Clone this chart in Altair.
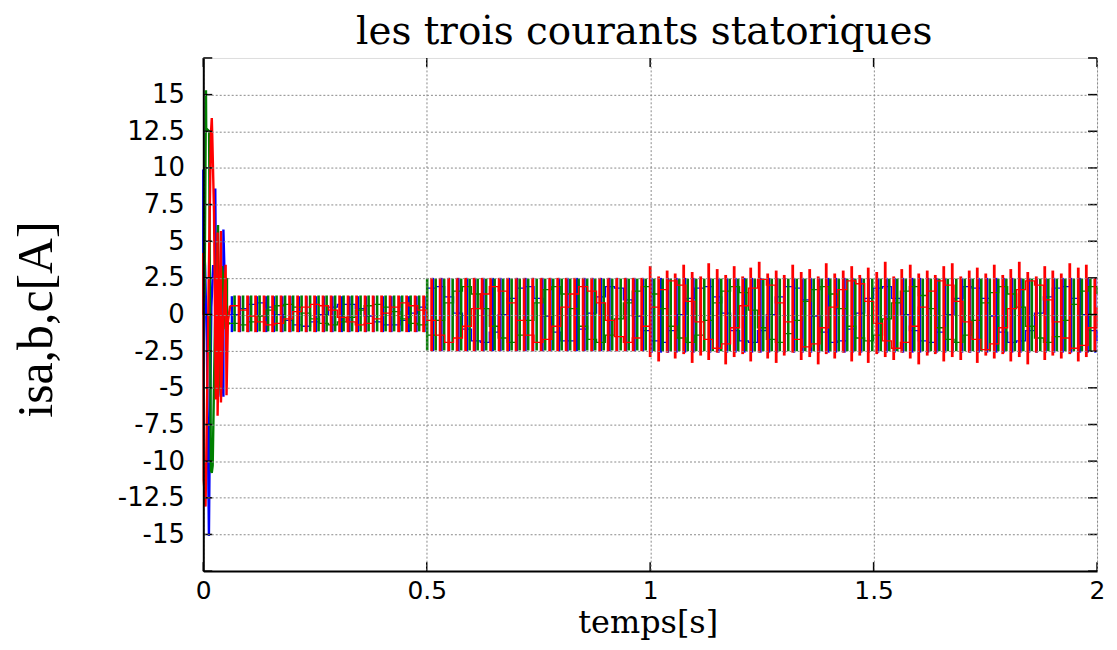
import altair as alt
import pandas as pd

# ---------------- axes ----------------
X_TICKS = [0, 0.5, 1, 1.5, 2]
Y_LABELED = [-15, -12.5, -10, -7.5, -5, -2.5, 0, 2.5, 5, 7.5, 10, 12.5, 15]
Y_TICKS = [-17.5, -15, -12.5, -10, -7.5, -5, -2.5, 0, 2.5, 5, 7.5, 10, 12.5, 15, 17.5]

PLOT_W = 897
PLOT_H = 515

BLUE = "#0000ff"
GREEN = "#008000"
RED = "#ff0000"

# ---------------- start-up transient (ms, A) ----------------
BLUE_TRANS_T = [0, 0, 1, 4, 8, 11, 12.6, 14, 18, 22, 26.8, 26.8, 28, 33, 39, 39, 41, 45, 45, 47, 53]
BLUE_TRANS_V = [0, 9.9, 5.0, 3.3, -1.8, -10.4, -15.1, -10.2, 0.5, 3.3, 3.3, 8.6, 3.4, 0.5, -3.6, -5.6, -3.0, -5.6, 5.8, 3.4, 0.0]
GREEN_TRANS_T = [0, 3, 6, 6.5, 13, 17, 19, 21, 26, 28, 33, 33, 37, 42, 46, 50, 53, 53]
GREEN_TRANS_V = [0, 1.6, 15.3, 12.7, 12.5, -10.6, -10.8, -10.3, -1.0, 1.6, 6.1, -5.5, -4.0, 3.3, 2.0, -1.0, 2.5, -0.6]
RED_TRANS_T = [0, 0, 1, 5, 6, 12, 17, 19, 20, 24, 28, 32, 32, 36, 39.5, 39.5, 44, 50, 52, 55]
RED_TRANS_V = [0, 4.2, -11.3, -13.1, -11.3, 2.0, 12.3, 13.4, 12.3, 7.0, -5.8, 5.6, -6.9, 0.5, 5.7, -6.0, -1.0, 3.4, -5.5, -0.5]

# ---------------- slow component, one value every 20 ms from 60 ms ----------------
WAVE_T0_MS = 60
WAVE_STEP_MS = 20
BLUE_WAVE = [
    0.0, 0.4, 0.7, 0.8, 0.5, 0.0, -0.4, -0.7, -0.8, -0.5,
    0.0, 0.5, 0.7, 0.7, 0.4, -0.1, -0.5, -0.7, -0.7, -0.4,
    0.1, 0.5,
    1.8, 1.9, 1.2, 0.1, -1.0, -1.8, -1.9, -1.2, 0.0, 1.1,
    1.8, 1.9, 1.1, -0.1, -1.2, -1.8, -1.8, -1.0, 0.1, 1.2,
    1.9, 1.8, 1.0, -0.1, -1.1,
    -1.8, -1.9, -1.1, 0.0, 1.1, 1.8, 1.9, 1.2, 0.1, -1.1,
    -1.8, -1.9, -1.1, 0.0, 1.2, 1.9, 1.8, 1.0, -0.1, -1.2,
    -1.9, -1.8, -1.0, 0.1, 1.1, 1.8, 1.9, 1.1, 0.0, -1.1,
    -1.8, -1.9, -1.2, 0.0, 1.1, 1.9, 1.8, 1.1, -0.1, -1.2,
    -1.9, -1.8, -1.1, 0.1, 1.2, 1.8, 1.9, 1.1, 0.0, -1.1,
    -1.8,
]
GREEN_WAVE = [
    -0.6, -0.7, -0.5, -0.1, 0.3, 0.6, 0.7, 0.5, 0.1, -0.3,
    -0.6, -0.7, -0.5, -0.2, 0.3, 0.6, 0.7, 0.5, 0.2, -0.3,
    -0.6, -0.7,
    -1.4, -0.4, 0.8, 1.6, 1.9, 1.4, 0.4, -0.8, -1.6, -1.9,
    -1.4, -0.4, 0.8, 1.7, 1.9, 1.4, 0.4, -0.8, -1.7, -1.9,
    -1.4, -0.3, 0.8, 1.6, 1.9,
    1.4, 0.4, -0.8, -1.6, -1.9, -1.4, -0.4, 0.8, 1.6, 1.9,
    1.5, 0.3, -0.9, -1.7, -1.9, -1.3, -0.4, 0.9, 1.7, 1.9,
    1.4, 0.4, -0.8, -1.6, -1.8, -1.4, -0.3, 0.8, 1.6, 1.9,
    1.3, 0.4, -0.9, -1.7, -1.9, -1.4, -0.4, 0.8, 1.5, 1.9,
    1.4, 0.5, -0.8, -1.6, -1.9, -1.5, -0.4, 0.7, 1.6, 1.9,
    1.4,
]
RED_WAVE = [
    0.6, 0.3, -0.1, -0.5, -0.7, -0.6, -0.3, 0.2, 0.5, 0.7,
    0.6, 0.3, -0.2, -0.5, -0.7, -0.6, -0.3, 0.1, 0.5, 0.8,
    0.6, 0.3,
    -0.4, -1.4, -1.9, -1.6, -0.8, 0.4, 1.4, 1.9, 1.6, 0.8,
    -0.4, -1.4, -1.9, -1.7, -0.8, 0.5, 1.4, 1.9, 1.6, 0.8,
    -0.4, -1.5, -1.9, -1.6, -0.8,
    0.5, 1.7, 2.3, 2.0, 0.9, -0.5, -1.7, -2.3, -2.0, -0.9,
    0.6, 1.8, 2.4, 2.0, 0.8, -0.5, -1.7, -2.2, -2.0, -0.9,
    0.5, 1.7, 2.3, 2.1, 0.9, -0.6, -1.8, -2.3, -1.9, -0.8,
    0.5, 1.6, 2.3, 2.0, 0.9, -0.5, -1.7, -2.4, -2.0, -0.9,
    0.4, 1.7, 2.3, 2.0, 1.0, -0.5, -1.6, -2.3, -2.1, -0.9,
    0.5,
]

# ---------------- switching spikes (ms) ----------------
BLUE_SPIKES = [
    64, 82, 101, 120, 141, 158, 177, 195, 214, 231, 252, 270, 289, 310, 327, 346, 364, 381, 402, 421,
    439, 460, 477, 495,
    514, 533, 550, 571, 590, 608, 627, 648, 665, 684, 702, 721, 738, 759, 777, 796, 815, 836, 853, 871,
    890, 909, 926, 946, 965, 984,
    1003, 1024, 1040, 1059, 1078, 1097, 1113, 1134, 1153, 1172, 1191, 1211, 1228, 1247, 1266, 1284,
    1301, 1322, 1341, 1360, 1378, 1399, 1416, 1435, 1453, 1472, 1489, 1510, 1529, 1547, 1566, 1587,
    1604, 1622, 1641, 1660, 1677, 1698, 1716, 1735, 1754, 1775, 1791, 1810, 1829, 1848, 1865, 1885,
    1904, 1923, 1942, 1962, 1979, 1996,
]
GREEN_SPIKES = [
    70, 89, 107, 126, 145, 164, 183, 201, 220, 239, 258, 276, 295, 314, 333, 352, 370, 389, 408, 427,
    445, 464, 483,
    501, 520, 539, 558, 577, 596, 614, 633, 652, 671, 690, 708, 727, 746, 765, 783, 802, 821, 840, 859,
    877, 896, 915, 934, 952, 971, 990,
    1009, 1028, 1046, 1065, 1084, 1103, 1121, 1140, 1159, 1178, 1197, 1215, 1234, 1253, 1272, 1290,
    1309, 1328, 1347, 1366, 1384, 1403, 1422, 1441, 1459, 1478, 1497, 1516, 1535, 1553, 1572, 1591,
    1610, 1628, 1647, 1666, 1685, 1704, 1722, 1741, 1760, 1779, 1797, 1816, 1835, 1854, 1873, 1891,
    1910, 1929, 1948, 1966, 1985,
]
RED_SPIKES = [
    80, 99, 117, 136, 155, 174, 193, 211, 230, 249, 268, 286, 305, 324, 343, 362, 380, 399, 418, 437,
    455, 474, 493,
    511, 530, 549, 568, 587, 606, 624, 643, 662, 681, 700, 718, 737, 756, 775, 793, 812, 831, 850, 869,
    887, 906, 925, 944, 962, 981, 1000,
    1019, 1038, 1056, 1075, 1094, 1113, 1131, 1150, 1169, 1188, 1207, 1225, 1244, 1263, 1282, 1300,
    1319, 1338, 1357, 1376, 1394, 1413, 1432, 1451, 1469, 1488, 1507, 1526, 1545, 1563, 1582, 1601,
    1620, 1638, 1657, 1676, 1695, 1714, 1732, 1751, 1770, 1789, 1807, 1826, 1845, 1864, 1883, 1901,
    1920, 1939, 1958, 1976, 1995,
]

# spike extremes per regime (55-500 ms, 500-1000 ms, 1000-2000 ms)
REGIME_EDGES_MS = [55, 500, 1000, 2001]
BLUE_HI = [1.25, 2.5, 2.5]
BLUE_LO = [-1.2, -2.5, -2.6]
GREEN_HI = [1.3, 2.45, 2.45]
GREEN_LO = [-1.15, -2.45, -2.5]
RED_HI = [1.3, 2.5]
RED_LO = [-1.2, -2.5]
# red spikes after 1 s, one pair per spike
RED_C_HI = [
    3.3, 2.6, 3.0, 2.8, 3.4, 2.9, 2.6, 3.5, 3.1, 2.7,
    3.3, 2.6, 3.2, 3.6, 2.8, 3.0, 2.7, 3.4, 2.9, 3.1,
    2.6, 3.5, 2.8, 3.0, 3.3, 2.7, 3.2, 2.9, 3.6, 2.6,
    3.1, 3.4, 2.8, 3.0, 2.7, 3.3, 3.5, 2.6, 3.0, 3.2,
    2.8, 3.4, 2.7, 3.1, 3.6, 2.9, 2.6, 3.3, 3.0, 2.8,
    3.5, 3.2, 3.4,
]
RED_C_LO = [
    -2.9, -3.2, -2.6, -3.0, -2.7, -3.3, -2.8, -3.1, -2.6, -3.4,
    -2.9, -2.7, -3.2, -2.6, -3.0, -3.3, -2.8, -2.6, -3.1, -2.9,
    -3.4, -2.7, -3.0, -2.6, -3.2, -2.8, -3.3, -2.7, -2.9, -3.1,
    -2.6, -3.0, -3.4, -2.8, -2.7, -3.2, -2.9, -3.1, -2.6, -3.3,
    -2.8, -3.0, -2.7, -3.2, -2.9, -3.4, -2.6, -3.1, -2.8, -3.0,
    -2.7, -3.2, -2.9,
]


def regime_of(tms):
    for i in range(len(REGIME_EDGES_MS) - 1):
        if REGIME_EDGES_MS[i] <= tms < REGIME_EDGES_MS[i + 1]:
            return i
    return len(REGIME_EDGES_MS) - 2


def trans_frame(trans_t, trans_v, wave):
    rows = [{"t": t / 1000.0, "v": v, "o": i} for i, (t, v) in enumerate(zip(trans_t, trans_v))]
    rows.append({"t": WAVE_T0_MS / 1000.0, "v": wave[0], "o": len(rows)})
    return pd.DataFrame(rows)


def wave_frame(wave):
    rows = [{"t": (WAVE_T0_MS + k * WAVE_STEP_MS) / 1000.0, "v": v, "o": k} for k, v in enumerate(wave)]
    return pd.DataFrame(rows)


def spike_frame(times, hi, lo, late_hi=None, late_lo=None):
    rows = []
    j = 0
    for tms in times:
        r = regime_of(tms)
        if r == 2 and late_hi is not None and j < len(late_hi):
            h, l = late_hi[j], late_lo[j]
            j += 1
        else:
            h, l = hi[min(r, len(hi) - 1)], lo[min(r, len(lo) - 1)]
        rows.append({"t": tms / 1000.0, "lo": l, "hi": h})
    return pd.DataFrame(rows)


XS = alt.Scale(domain=[0, 2], nice=False, zero=False)
YS = alt.Scale(domain=[-17.5, 17.5], nice=False, zero=False)

GRID_COLOR = "#8a8a8a"
XA = alt.Axis(
    values=X_TICKS, labelExpr="'' + datum.value", title="temps[s]",
    grid=True, gridColor=GRID_COLOR, gridDash=[2, 2], gridWidth=1,
    ticks=False, labelFont="DejaVu Sans", labelFontSize=25, labelColor="black",
    labelPadding=7, labelFlush=False, labelOverlap=False,
    domainColor="black", domainWidth=2,
    titleFont="DejaVu Serif", titleFontSize=32, titleFontWeight="normal", titleColor="black",
    titleX=446, titleY=62, titleAlign="center", titleBaseline="alphabetic", zindex=1,
)
YA = alt.Axis(
    values=Y_LABELED, labelExpr="'' + datum.value", title="isa,b,c[A]",
    grid=True, gridColor=GRID_COLOR, gridDash=[2, 2], gridWidth=1,
    ticks=False, labelFont="DejaVu Sans", labelFontSize=26, labelColor="black",
    labelPadding=19, labelFlush=False, labelOverlap=False,
    domainColor="black", domainWidth=2,
    titleFont="Liberation Serif", titleFontSize=50, titleFontWeight="normal", titleColor="black",
    titleAngle=270, titleX=-167, titleY=262, titleAlign="center", titleBaseline="middle", zindex=1,
)


def phase_layers(trans_df, wave_df, spike_df, color, bar_w):
    bars = alt.Chart(spike_df).mark_rule(color=color, strokeWidth=bar_w).encode(
        x=alt.X("t:Q", scale=XS, axis=XA),
        y=alt.Y("lo:Q", scale=YS, axis=YA),
        y2="hi:Q",
    )
    wave = alt.Chart(wave_df).mark_line(color=color, strokeWidth=1.3, interpolate="step-after").encode(
        x=alt.X("t:Q", scale=XS, axis=XA),
        y=alt.Y("v:Q", scale=YS, axis=YA),
        order="o:Q",
    )
    trans = alt.Chart(trans_df).mark_line(color=color, strokeWidth=2.4).encode(
        x=alt.X("t:Q", scale=XS, axis=XA),
        y=alt.Y("v:Q", scale=YS, axis=YA),
        order="o:Q",
    )
    return [bars, wave, trans]


layers = []
layers += phase_layers(trans_frame(BLUE_TRANS_T, BLUE_TRANS_V, BLUE_WAVE), wave_frame(BLUE_WAVE),
                       spike_frame(BLUE_SPIKES, BLUE_HI, BLUE_LO), BLUE, 2.4)
layers += phase_layers(trans_frame(GREEN_TRANS_T, GREEN_TRANS_V, GREEN_WAVE), wave_frame(GREEN_WAVE),
                       spike_frame(GREEN_SPIKES, GREEN_HI, GREEN_LO), GREEN, 2.6)
layers += phase_layers(trans_frame(RED_TRANS_T, RED_TRANS_V, RED_WAVE), wave_frame(RED_WAVE),
                       spike_frame(RED_SPIKES, RED_HI, RED_LO, RED_C_HI, RED_C_LO), RED, 2.8)

ydf = pd.DataFrame({"v": Y_TICKS})
xdf = pd.DataFrame({"t": X_TICKS})
TL = 9
left_ticks = alt.Chart(ydf).mark_rule(color="black", strokeWidth=1.5).encode(
    y=alt.Y("v:Q", scale=YS, axis=YA), x=alt.value(0), x2=alt.value(TL))
right_ticks = alt.Chart(ydf).mark_rule(color="black", strokeWidth=1.5).encode(
    y=alt.Y("v:Q", scale=YS, axis=YA), x=alt.value(PLOT_W - TL), x2=alt.value(PLOT_W))
bottom_ticks = alt.Chart(xdf).mark_rule(color="black", strokeWidth=1.5).encode(
    x=alt.X("t:Q", scale=XS, axis=XA), y=alt.value(PLOT_H - TL), y2=alt.value(PLOT_H))
top_ticks = alt.Chart(xdf).mark_rule(color="black", strokeWidth=1.5).encode(
    x=alt.X("t:Q", scale=XS, axis=XA), y=alt.value(0), y2=alt.value(TL))
layers += [left_ticks, right_ticks, bottom_ticks, top_ticks]

chart = alt.layer(*layers).properties(
    width=PLOT_W,
    height=PLOT_H,
    title=alt.TitleParams(
        text="les trois courants statoriques", font="DejaVu Serif", fontSize=39,
        fontWeight="normal", color="black", anchor="middle", offset=5, dx=-6,
    ),
    autosize=alt.AutoSizeParams(type="none"),
    padding={"left": 196, "top": 49, "right": 12, "bottom": 70},
).configure_view(stroke="black", strokeWidth=2).configure(background="white")

chart.save("out.html", embed_options={"renderer": "svg", "actions": False})
